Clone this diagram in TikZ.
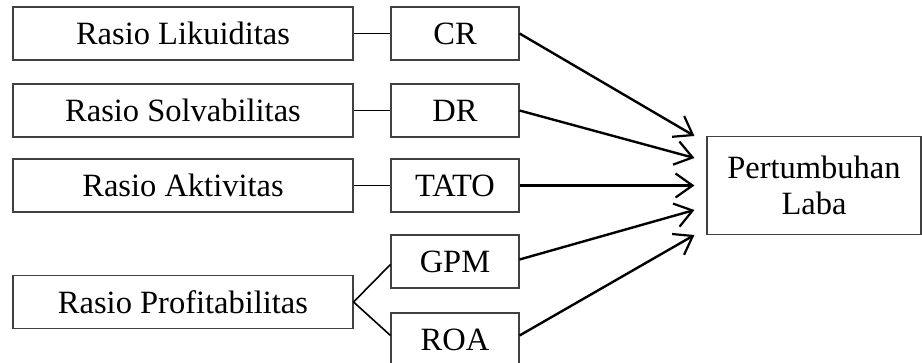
\documentclass[tikz,border=0pt]{standalone}
\usepackage{fontspec}
\setmainfont{Liberation Serif}
\usetikzlibrary{arrows.meta}
\begin{document}
\begin{tikzpicture}[x=1pt,y=-1pt,
  box/.style={draw=black!75,line width=1.1pt,fill=white,minimum height=53pt,inner sep=0pt,
    font=\fontsize{32.5}{36}\selectfont},
  leftbox/.style={box,minimum width=340pt},
  midbox/.style={box,minimum width=128pt},
  link/.style={draw=black,line width=1.6pt},
  arr/.style={draw=black,line width=2.4pt,-{Straight Barb[length=17pt,width=24pt,line width=2.2pt]}}]
\clip (0,0) rectangle (922,363);
\fill[white] (0,0) rectangle (922,363);
% left boxes
\node[leftbox] (L1) at (183,33.5) {Rasio Likuiditas};
\node[leftbox] (L2) at (183,110.5) {Rasio Solvabilitas};
\node[leftbox] (L3) at (183,185.5) {Rasio Aktivitas};
\node[leftbox] (L4) at (183,302) {Rasio Profitabilitas};
% middle boxes
\node[midbox] (CR) at (455,33.5) {CR};
\node[midbox] (DR) at (455,110.5) {DR};
\node[midbox] (TATO) at (455,185.5) {TATO};
\node[midbox] (GPM) at (455,261.5) {GPM};
\node[midbox] (ROA) at (455,339.5) {ROA};
% right box
\node[box,minimum width=214pt,minimum height=98pt,align=center] (P) at (814,185.5) {Pertumbuhan\\Laba};
% links
\draw[link] (L1.east) -- (CR.west);
\draw[link] (L2.east) -- (DR.west);
\draw[link] (L3.east) -- (TATO.west);
\draw[link] (L4.east) -- ([yshift=-3pt]GPM.west);
\draw[link] (L4.east) -- ([yshift=4pt]ROA.west);
% arrow targets
\coordinate (t1) at ([xshift=-12pt,yshift=49.5pt]P.west);
\coordinate (t2) at ([xshift=-12pt,yshift=27.5pt]P.west);
\coordinate (t3) at ([xshift=-12pt]P.west);
\coordinate (t4) at ([xshift=-12pt,yshift=-24.5pt]P.west);
\coordinate (t5) at ([xshift=-12pt,yshift=-49.5pt]P.west);
\draw[arr] (CR.east) -- (t1);
\draw[arr] (DR.east) -- (t2);
\draw[arr] (TATO.east) -- (t3);
\draw[arr] ([yshift=2pt]GPM.east) -- (t4);
\draw[arr] ([yshift=4pt]ROA.east) -- (t5);
\end{tikzpicture}
\end{document}
